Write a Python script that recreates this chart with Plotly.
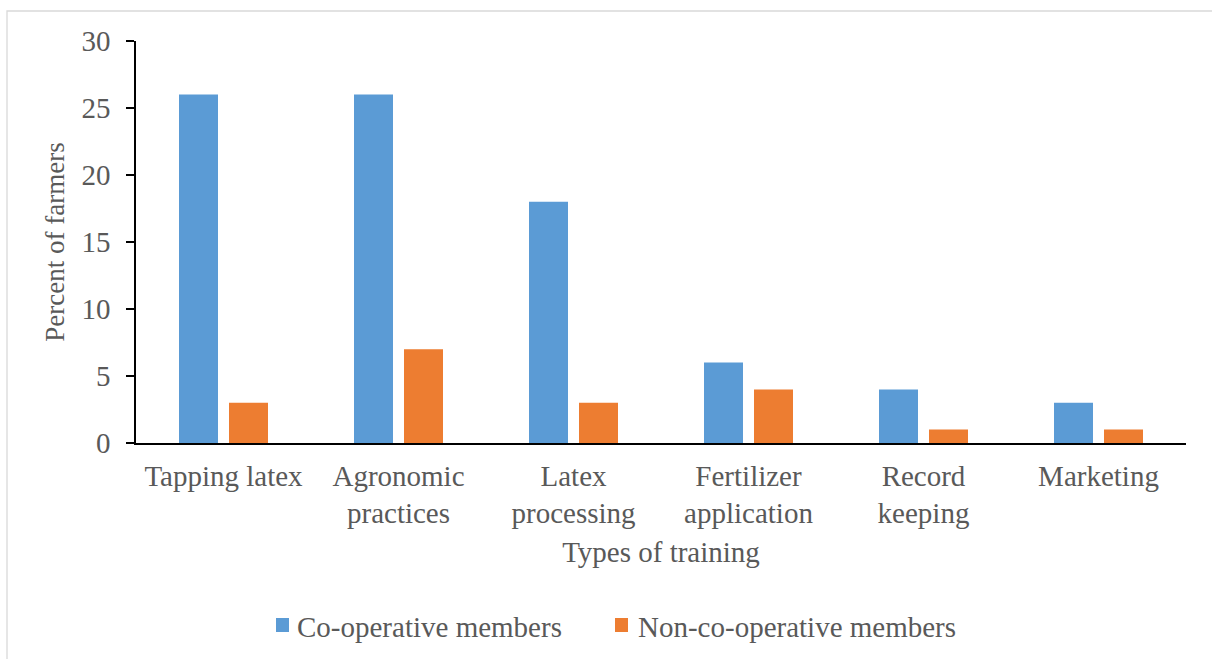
import plotly.graph_objects as go

categories = ["Tapping latex", "Agronomic<br>practices", "Latex<br>processing",
              "Fertilizer<br>application", "Record<br>keeping", "Marketing"]
coop_members = [26, 26, 18, 6, 4, 3]
non_coop_members = [3, 7, 3, 4, 1, 1]
series_names = ["Co-operative members", "Non-co-operative members"]
series_colors = ["#5b9bd5", "#ed7d31"]
y_ticks = [0, 5, 10, 15, 20, 25, 30]

W, H = 1212, 659
L, R, T, B = 136, 26, 41, 216
FONT = "Liberation Serif, Times New Roman, serif"
GREY = "#595959"
pw, ph = W - L - R, H - T - B


def px_x(v):
    """Pixel column -> paper x."""
    return (v - L) / pw


def px_y(v):
    """Pixel row -> paper y."""
    return (H - B - v) / ph


fig = go.Figure()
for vals, name, col in zip([coop_members, non_coop_members], series_names, series_colors):
    fig.add_trace(go.Bar(x=categories, y=vals, name=name, showlegend=False,
                         marker=dict(color=col, line=dict(width=0))))

# light frame around the chart area
fig.add_shape(type="rect", xref="paper", yref="paper",
              x0=px_x(7), x1=px_x(W + 20), y0=px_y(H + 20), y1=px_y(11),
              line=dict(color="#d9d9d9", width=1.3), fillcolor="rgba(0,0,0,0)", layer="below")

# legend row: colour key squares with labels
legend_sq_left = [276, 615]
legend_txt_left = [295, 636]
for sx, tx, name, col in zip(legend_sq_left, legend_txt_left, series_names, series_colors):
    fig.add_shape(type="rect", xref="paper", yref="paper",
                  x0=px_x(sx), x1=px_x(sx + 13), y0=px_y(632), y1=px_y(618),
                  line=dict(width=0), fillcolor=col)
    fig.add_annotation(text=name, xref="paper", yref="paper",
                       x=px_x(tx), y=px_y(627), xanchor="left", yanchor="middle",
                       showarrow=False, font=dict(family=FONT, size=29, color=GREY))

fig.update_layout(
    width=W, height=H,
    margin=dict(l=L, r=R, t=T, b=B),
    paper_bgcolor="white", plot_bgcolor="white",
    barmode="group", bargap=0.4286, bargroupgap=0.22,
    font=dict(family=FONT, size=29, color=GREY),
    showlegend=False,
    xaxis=dict(
        showline=True, linecolor="black", linewidth=1.5,
        ticks="", showgrid=False, ticklabelstandoff=6,
        tickfont=dict(family=FONT, size=29, color=GREY),
        title=dict(text="Types of training", font=dict(family=FONT, size=29, color=GREY), standoff=13),
    ),
    yaxis=dict(
        range=[0, 30], tickvals=y_ticks,
        showline=True, linecolor="black", linewidth=1.5,
        ticks="outside", ticklen=8, tickcolor="black", tickwidth=1.5,
        showgrid=False, zeroline=False, ticklabelstandoff=10,
        tickfont=dict(family=FONT, size=29, color=GREY),
        title=dict(text="Percent of farmers", font=dict(family=FONT, size=27, color=GREY), standoff=9),
    ),
)

fig.write_html("out.html")
